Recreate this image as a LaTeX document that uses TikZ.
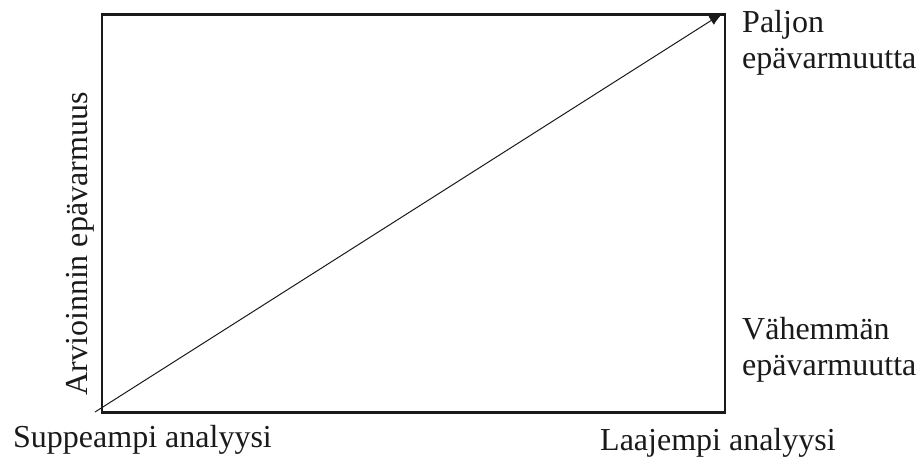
\documentclass[tikz,border=0pt]{standalone}
\usepackage{fontspec}
\setmainfont{Liberation Serif}
\usetikzlibrary{arrows.meta}
\definecolor{ink}{HTML}{1A1A1A}
\tikzset{
  lbl/.style={inner sep=0pt, text=ink, font=\fontsize{32}{36}\selectfont},
  frame/.style={draw=ink, line width=2.6pt, inner sep=0pt},
  arr/.style={draw=ink, line width=1pt, -{Latex[length=14pt,width=10pt]}}
}
\begin{document}
\begin{tikzpicture}[x=1pt,y=-1pt]
\useasboundingbox (0,0) rectangle (918,457);
\node[frame, minimum width=623pt, minimum height=397.5pt, anchor=north west] (box) at (100.5,13.5) {};
\coordinate (sw) at (95,412);
\coordinate (ne) at (723,13);
\draw[arr] (sw) -- (ne);
\node[lbl, anchor=base west] (p1) at (742,33) {Paljon};
\node[lbl, anchor=base west] (p2) at (742,69) {epävarmuutta};
\node[lbl, anchor=base west] (v1) at (742,339) {Vähemmän};
\node[lbl, anchor=base west] (v2) at (742,375) {epävarmuutta};
\node[lbl, anchor=base west] (s) at (13,447) {Suppeampi analyysi};
\node[lbl, anchor=base west] (l) at (600,450) {Laajempi analyysi};
\node[lbl, rotate=90, anchor=base] (y) at (87,244) {Arvioinnin epävarmuus};
\end{tikzpicture}
\end{document}
